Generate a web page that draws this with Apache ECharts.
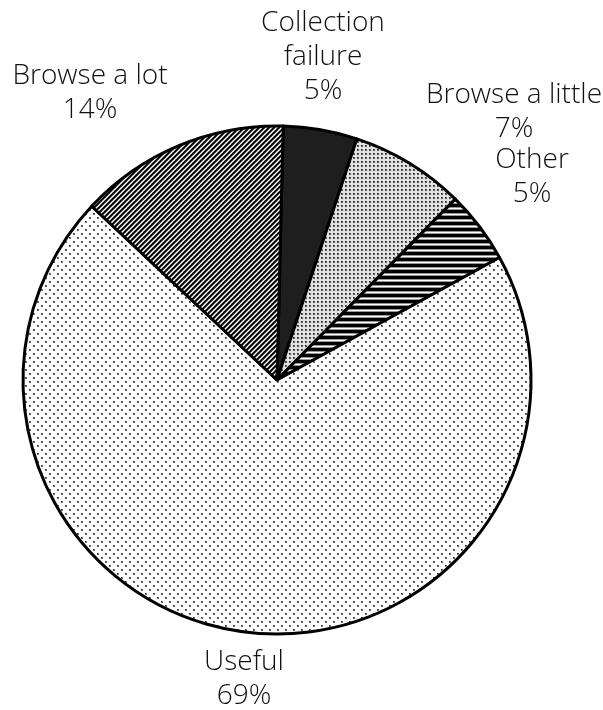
<!DOCTYPE html>
<html>
<head>
<meta charset="utf-8">
<script src="https://cdn.jsdelivr.net/npm/echarts@6/dist/echarts.min.js"></script>
<style>
html,body{margin:0;padding:0;background:#fff;}
#chart{width:603px;height:710px;}
</style>
</head>
<body>
<div id="chart"></div>
<script>
// ---- data ----
const categories = ['Collection failure', 'Browse a little', 'Other', 'Useful', 'Browse a lot'];
const values = [4.7, 7.3, 4.6, 70.0, 13.4];
const percentLabels = ['5%', '7%', '5%', '69%', '14%'];
const labelNames = ['Collection\nfailure', 'Browse a little', 'Other', 'Useful', 'Browse a lot'];

// ---- patterns ----
function makeTile(w, h, fn) {
  const c = document.createElement('canvas');
  c.width = w; c.height = h;
  const ctx = c.getContext('2d');
  const img = ctx.createImageData(w, h);
  for (let y = 0; y < h; y++) {
    for (let x = 0; x < w; x++) {
      const v = fn(x, y);
      const i = (y * w + x) * 4;
      img.data[i] = v; img.data[i+1] = v; img.data[i+2] = v; img.data[i+3] = 255;
    }
  }
  ctx.putImageData(img, 0, 0);
  return c;
}
const denseDots = makeTile(4, 4, (x, y) => (x >= 1 && x <= 2 && y >= 1 && y <= 2) ? ((x===1&&y===1)?40:90) : 225);
const hStripes = makeTile(1, 6, (x, y) => y < 3 ? 0 : (y === 3 || y === 5 ? 150 : 255));
const sparseDots = makeTile(8, 8, (x, y) => {
  if ((x === 1 || x === 2) && (y === 1 || y === 2)) return (x===1&&y===1)?40:110;
  if ((x === 5 || x === 6) && (y === 5 || y === 6)) return (x===5&&y===5)?40:110;
  return 255;
});
const diagStripes = makeTile(5, 5, (x, y) => {
  const m = (x + y) % 5;
  return m === 0 || m === 1 ? 0 : (m === 2 ? 90 : (m === 4 ? 170 : 255));
});
const fills = [
  '#1e1e1e',
  { image: denseDots, repeat: 'repeat' },
  { image: hStripes, repeat: 'repeat' },
  { image: sparseDots, repeat: 'repeat' },
  { image: diagStripes, repeat: 'repeat' }
];
// label anchor centers (layout only)
const labelPos = [[323, 57], [514, 112], [532, 177], [244, 679], [90, 93]];

const chart = echarts.init(document.getElementById('chart'), null, { renderer: 'canvas' });
chart.setOption({
  animation: false,
  backgroundColor: '#fff',
  series: [{
    type: 'pie',
    center: [277, 380],
    radius: 254,
    startAngle: 88.6,
    clockwise: true,
    avoidLabelOverlap: false,
    data: categories.map((c, i) => ({
      name: c,
      value: values[i],
      itemStyle: { color: fills[i] },
      label: { formatter: labelNames[i] + '\n' + percentLabels[i] }
    })),
    itemStyle: { borderColor: '#000', borderWidth: 3 },
    label: {
      show: true,
      position: 'outside',
      color: '#111',
      fontFamily: 'Open Sans',
      fontWeight: 300,
      fontSize: 28,
      lineHeight: 34,
      align: 'center'
    },
    labelLine: { show: false },
    labelLayout: function (p) {
      const pos = labelPos[p.dataIndex];
      return { x: pos[0], y: pos[1], align: 'center', verticalAlign: 'middle' };
    },
    emphasis: { disabled: true }
  }]
});
</script>
</body>
</html>
